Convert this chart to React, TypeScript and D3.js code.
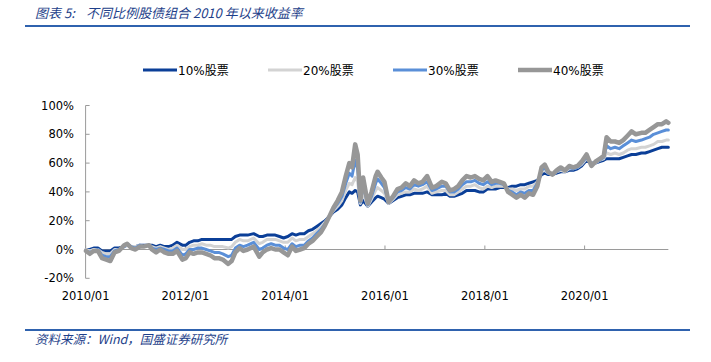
import React from "react";
import * as d3 from "d3";

const dates: string[] = [
  "2010-01-04","2010-02-01","2010-03-01","2010-04-01","2010-05-01","2010-06-01","2010-07-01","2010-08-01","2010-09-01","2010-10-10","2010-11-01","2010-12-01",
  "2011-01-01","2011-02-01","2011-03-01","2011-04-10","2011-05-01","2011-06-01","2011-07-01","2011-08-01","2011-09-01","2011-10-01","2011-11-01","2011-12-10",
  "2012-01-05","2012-02-01","2012-03-01","2012-04-01","2012-05-01","2012-06-01","2012-07-01","2012-08-01","2012-09-01","2012-10-01","2012-11-10","2012-12-05",
  "2013-01-01","2013-02-01","2013-03-01","2013-04-01","2013-05-15","2013-06-25","2013-07-20","2013-08-20","2013-09-20","2013-10-20","2013-11-20","2013-12-20",
  "2014-01-20","2014-02-20","2014-03-20","2014-04-20","2014-05-20","2014-06-20","2014-07-20","2014-08-20","2014-09-20","2014-10-20","2014-11-20","2014-12-20",
  "2015-01-20","2015-02-20","2015-03-20","2015-04-15","2015-05-05","2015-05-28","2015-06-15","2015-07-05","2015-07-25","2015-08-28","2015-09-25","2015-10-25","2015-11-08","2015-12-05","2015-12-28",
  "2016-01-28","2016-03-01","2016-04-01","2016-05-01","2016-06-01","2016-07-01","2016-08-01","2016-09-01","2016-10-01","2016-11-05","2016-12-10",
  "2017-01-10","2017-02-20","2017-03-20","2017-04-20","2017-05-20","2017-06-20","2017-07-20","2017-08-20","2017-09-20","2017-10-20","2017-11-20","2017-12-20",
  "2018-01-20","2018-02-20","2018-03-20","2018-04-20","2018-05-20","2018-06-20","2018-07-20","2018-08-20","2018-09-20","2018-10-20","2018-11-20","2018-12-20",
  "2019-01-20","2019-02-20","2019-03-15","2019-04-10","2019-05-10","2019-06-10","2019-07-10","2019-08-10","2019-09-10","2019-10-10","2019-11-10","2019-12-10",
  "2020-01-15","2020-02-20","2020-03-20","2020-04-20","2020-05-20","2020-06-10","2020-07-10","2020-08-10","2020-09-10","2020-10-10","2020-11-10","2020-12-10",
  "2021-01-10","2021-02-20","2021-03-20","2021-04-20","2021-05-20","2021-06-20","2021-07-20","2021-08-20","2021-09-05",
];

const stock10: number[] = [
  0,0,1,1,-1,-1,-1,1,1,2,3,2,
  2,3,3,3,3,2,3,2,2,3,5,3,
  3,5,6,6,7,7,7,7,7,7,7,7,
  9,10,10,10,11,9,9,10,10,10,9,8,
  9,11,10,11,11,13,14,16,18,20,23,26,
  28,31,36,40,39,41,40,31,34,30,33,36,37,36,35,
  32,34,36,37,38,38,39,39,39,40,38,
  38,38,39,37,37,38,39,41,41,41,40,40,
  42,42,42,43,43,43,44,44,45,45,46,47,
  48,52,53,52,52,53,54,54,55,55,56,58,
  62,60,60,61,62,63,63,63,63,64,65,66,
  66,67,67,68,69,70,71,71,71,
];

const stock20: number[] = [
  0,-1,0,0,-2,-3,-3,0,0,2,3,2,
  2,3,2,3,2,1,2,1,0,1,3,0,
  0,2,3,3,4,3,3,2,2,2,1,2,
  5,7,6,6,8,4,5,7,7,7,6,5,
  5,8,6,7,7,9,11,13,16,19,23,27,
  30,34,41,46,45,50,47,32,39,30,35,41,43,41,39,
  32,35,38,39,40,40,42,41,42,44,39,
  40,41,41,38,38,40,42,44,44,45,43,42,
  44,43,44,44,44,42,42,41,42,42,44,44,
  47,54,55,53,52,54,55,54,56,56,57,59,
  63,60,60,62,63,67,66,67,66,67,69,70,
  70,71,71,72,73,75,75,76,76,
];

const stock30: number[] = [
  -1,-2,-1,0,-4,-5,-5,-1,0,2,4,2,
  1,3,2,3,1,0,1,0,-1,-1,1,-4,
  -3,0,0,1,1,0,-1,-2,-2,-3,-5,-4,
  1,3,2,3,5,0,1,3,4,3,3,1,
  0,4,2,3,3,6,8,11,14,18,23,28,
  32,37,46,53,51,62,56,33,45,31,37,46,49,46,43,
  33,36,40,41,43,42,45,44,45,47,41,
  42,44,44,40,40,42,45,47,47,48,46,45,
  47,45,46,46,45,41,40,38,40,39,41,41,
  46,55,57,53,52,54,56,55,57,56,57,60,
  64,59,61,62,64,72,70,71,70,72,74,76,
  75,76,77,78,80,81,82,83,83,
];

const stock40: number[] = [
  -1,-3,-1,-1,-6,-7,-8,-2,-1,3,4,1,
  0,2,2,3,0,-2,0,-2,-3,-3,-1,-7,
  -6,-2,-3,-2,-2,-3,-4,-6,-6,-7,-10,-8,
  -2,1,-1,0,2,-5,-2,0,1,0,0,-2,
  -4,2,-1,0,1,4,6,9,12,17,23,29,
  34,40,51,60,57,73,66,34,50,32,40,51,54,50,47,
  33,37,42,43,46,44,48,46,47,51,43,
  44,47,46,41,42,44,48,51,50,51,49,48,
  51,47,48,47,46,40,38,36,38,36,39,38,
  44,57,59,54,52,55,57,55,58,57,58,61,
  66,58,61,63,65,78,75,75,74,76,79,82,
  80,81,81,83,85,87,87,89,88,
];

const xTickLabels: string[] = ["2010/01","2012/01","2014/01","2016/01","2018/01","2020/01"];
const yTicks: number[] = [-20, 0, 20, 40, 60, 80, 100];

const seriesNames: string[] = ["10%股票","20%股票","30%股票","40%股票"];
const seriesColors: string[] = ["#0B3F98","#D3D3D3","#5A8FD8","#979797"];
const seriesWidths: number[] = [3, 3, 3, 4.5];

const parse = d3.timeParse("%Y-%m-%d");
const parseTick = d3.timeParse("%Y/%m");

export default function App() {
  const W = 711, H = 362;
  const dts = dates.map((d) => parse(d) as Date);
  const x = d3.scaleTime()
    .domain([parse("2010-01-01") as Date, parse("2020-01-01") as Date])
    .range([85.6, 584.6]);
  const y = d3.scaleLinear().domain([-20, 100]).range([278.3, 105.5]);

  const allSeries = [stock10, stock20, stock30, stock40];
  const line = d3.line<number>()
    .x((_, i) => x(dts[i]))
    .y((v) => y(v))
    .curve(d3.curveLinear);

  const axisColor = "#9a9a9a";
  const titleColor = "#1E3F8A";
  const ruleColor = "#2F62AE";
  const font = "'DejaVu Sans', 'Noto Sans CJK SC', sans-serif";
  const cjkFont = "'Noto Sans CJK SC', sans-serif";
  const legendX = [143, 268, 393, 518];
  const xEnd = x(dts[dts.length - 1]);

  return (
    <div style={{ position: "absolute", left: 0, top: 0 }}>
      <svg width={W} height={H} style={{ display: "block", background: "#fff" }}>
        <text x={35} y={18} fontFamily={cjkFont} fontSize={13} fontStyle="italic" fill={titleColor}>
          图表 5:
        </text>
        <text x={86} y={18} fontFamily={cjkFont} fontSize={13} fontStyle="italic" fill={titleColor}>
          不同比例股债组合 2010 年以来收益率
        </text>
        <line x1={25} x2={690} y1={26} y2={26} stroke={ruleColor} strokeWidth={2} />

        {seriesNames.map((n, i) => (
          <g key={n}>
            <line x1={legendX[i]} x2={legendX[i] + 34} y1={70} y2={70}
              stroke={seriesColors[i]} strokeWidth={seriesWidths[i]} />
            <text x={legendX[i] + 35} y={74.5} fontFamily={font} fontSize={12} fill="#000">{n}</text>
          </g>
        ))}

        {/* y axis */}
        <line x1={x.range()[0]} x2={x.range()[0]} y1={y(100)} y2={y(-20)} stroke={axisColor} strokeWidth={1} />
        {yTicks.map((t) => (
          <g key={t}>
            <line x1={x.range()[0]} x2={x.range()[0] + 4} y1={y(t)} y2={y(t)} stroke={axisColor} />
            <text x={74} y={y(t) + 4} textAnchor="end" fontFamily={font} fontSize={11.5} fill="#000">{t}%</text>
          </g>
        ))}

        {/* x axis at 0% */}
        <line x1={x.range()[0]} x2={xEnd} y1={y(0)} y2={y(0)} stroke={axisColor} strokeWidth={1} />
        {xTickLabels.map((lab) => {
          const px = x(parseTick(lab) as Date);
          return (
            <g key={lab}>
              <line x1={px} x2={px} y1={y(0)} y2={y(0) - 4} stroke={axisColor} />
              <text x={px} y={300} textAnchor="middle" fontFamily={font} fontSize={11.5} fill="#000">{lab}</text>
            </g>
          );
        })}

        {allSeries.map((s, i) => (
          <path key={i} d={line(s) || ""} fill="none" stroke={seriesColors[i]}
            strokeWidth={seriesWidths[i]} strokeLinejoin="round" strokeLinecap="round" />
        ))}

        <line x1={25} x2={690} y1={330} y2={330} stroke={ruleColor} strokeWidth={2} />
        <text x={35} y={344} fontFamily={cjkFont} fontSize={12.5} fontStyle="italic" fill={titleColor}>
          资料来源：Wind，国盛证券研究所
        </text>
      </svg>
    </div>
  );
}
